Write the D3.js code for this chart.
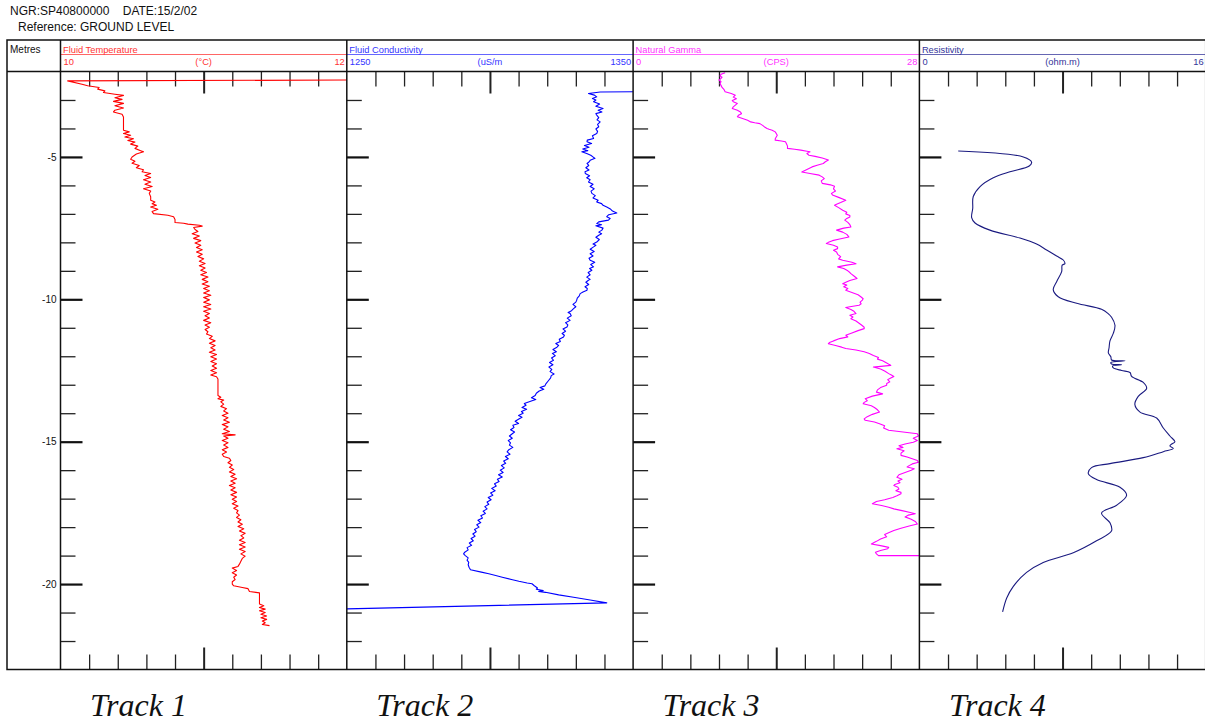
<!DOCTYPE html>
<html>
<head>
<meta charset="utf-8">
<script src="https://cdn.jsdelivr.net/npm/d3@7"></script>
<style>
  body { margin: 0; background: #fff; }
  svg { display: block; font-family: "Liberation Sans", Arial, sans-serif; }
</style>
</head>
<body>
<svg id="chart" width="1205" height="722"></svg>
<script>
// depth in metres below ground level, value in track units
var tempLog = [
  [2.30, 12.0], [2.33, 10.05], [2.45, 10.15], [2.50, 10.19], [2.56, 10.27], [2.62, 10.26], [2.68, 10.31], [2.74, 10.30],
  [2.80, 10.38], [2.84, 10.44], [2.92, 10.38], [2.98, 10.43], [3.05, 10.37], [3.12, 10.44], [3.20, 10.38], [3.28, 10.44],
  [3.36, 10.38], [3.42, 10.37], [3.50, 10.43], [3.60, 10.44], [3.80, 10.44], [4.00, 10.44], [4.06, 10.44], [4.12, 10.48],
  [4.18, 10.44], [4.24, 10.49], [4.30, 10.45], [4.36, 10.51], [4.42, 10.47], [4.48, 10.52], [4.55, 10.49], [4.62, 10.54],
  [4.70, 10.52], [4.78, 10.56], [4.82, 10.58], [4.90, 10.53], [5.00, 10.50], [5.08, 10.49], [5.15, 10.52], [5.22, 10.50],
  [5.30, 10.55], [5.38, 10.53], [5.45, 10.58], [5.52, 10.57], [5.58, 10.63], [5.65, 10.59], [5.72, 10.63], [5.80, 10.58],
  [5.88, 10.63], [5.96, 10.59], [6.04, 10.64], [6.12, 10.58], [6.20, 10.63], [6.28, 10.62], [6.40, 10.63], [6.52, 10.63],
  [6.58, 10.66], [6.64, 10.64], [6.70, 10.67], [6.76, 10.63], [6.84, 10.68], [6.92, 10.64], [6.99, 10.65], [7.05, 10.75],
  [7.10, 10.79], [7.20, 10.80], [7.30, 10.80], [7.33, 10.86], [7.36, 10.89], [7.40, 10.97], [7.43, 10.99], [7.48, 10.93],
  [7.55, 10.94], [7.62, 10.96], [7.70, 10.92], [7.78, 10.97], [7.86, 10.93], [7.94, 10.98], [8.02, 10.94], [8.10, 10.98],
  [8.18, 10.95], [8.26, 10.99], [8.34, 10.95], [8.42, 10.99], [8.50, 10.96], [8.58, 11.00], [8.66, 10.97], [8.74, 11.01],
  [8.82, 10.97], [8.90, 11.01], [8.98, 10.98], [9.06, 11.02], [9.14, 10.98], [9.22, 11.03], [9.30, 10.99], [9.38, 11.03],
  [9.46, 10.99], [9.54, 11.04], [9.62, 11.00], [9.70, 11.04], [9.78, 11.00], [9.86, 11.05], [9.94, 11.00], [10.02, 11.04],
  [10.10, 11.00], [10.18, 11.05], [10.26, 11.00], [10.34, 11.05], [10.42, 11.00], [10.50, 11.04], [10.58, 11.01], [10.66, 11.04],
  [10.74, 11.00], [10.82, 11.05], [10.90, 11.01], [10.98, 11.04], [11.06, 11.01], [11.14, 11.03], [11.22, 11.02], [11.30, 11.06],
  [11.38, 11.04], [11.46, 11.08], [11.54, 11.04], [11.62, 11.08], [11.70, 11.05], [11.78, 11.08], [11.86, 11.04], [11.94, 11.09],
  [12.02, 11.05], [12.10, 11.09], [12.18, 11.05], [12.26, 11.09], [12.34, 11.06], [12.42, 11.09], [12.50, 11.05], [12.58, 11.09],
  [12.66, 11.05], [12.72, 11.09], [12.80, 11.10], [13.00, 11.10], [13.20, 11.10], [13.38, 11.10], [13.44, 11.12], [13.49, 11.10],
  [13.54, 11.14], [13.60, 11.12], [13.68, 11.14], [13.76, 11.12], [13.84, 11.16], [13.92, 11.14], [14.00, 11.17], [14.08, 11.13],
  [14.16, 11.17], [14.24, 11.14], [14.32, 11.18], [14.40, 11.13], [14.48, 11.17], [14.56, 11.14], [14.64, 11.18], [14.72, 11.13],
  [14.76, 11.22], [14.80, 11.14], [14.88, 11.17], [14.96, 11.13], [15.04, 11.17], [15.12, 11.14], [15.20, 11.17], [15.28, 11.13],
  [15.36, 11.16], [15.44, 11.13], [15.52, 11.14], [15.58, 11.18], [15.66, 11.19], [15.74, 11.17], [15.82, 11.20], [15.90, 11.18],
  [15.98, 11.21], [16.06, 11.18], [16.14, 11.22], [16.22, 11.19], [16.30, 11.23], [16.38, 11.19], [16.46, 11.22], [16.54, 11.18],
  [16.62, 11.22], [16.70, 11.19], [16.78, 11.23], [16.86, 11.19], [16.94, 11.23], [17.02, 11.20], [17.10, 11.23], [17.18, 11.20],
  [17.26, 11.24], [17.34, 11.21], [17.42, 11.24], [17.50, 11.23], [17.58, 11.25], [17.66, 11.23], [17.74, 11.26], [17.82, 11.24],
  [17.90, 11.27], [17.98, 11.24], [18.06, 11.28], [18.14, 11.25], [18.22, 11.29], [18.30, 11.26], [18.38, 11.28], [18.46, 11.25],
  [18.54, 11.29], [18.62, 11.25], [18.70, 11.29], [18.78, 11.25], [18.86, 11.29], [18.94, 11.26], [19.02, 11.29], [19.10, 11.27],
  [19.20, 11.26], [19.30, 11.25], [19.38, 11.24], [19.44, 11.20], [19.52, 11.23], [19.60, 11.20], [19.68, 11.23], [19.76, 11.21],
  [19.84, 11.22], [19.92, 11.20], [20.00, 11.20], [20.06, 11.21], [20.12, 11.27], [20.16, 11.31], [20.26, 11.32], [20.31, 11.39],
  [20.50, 11.39], [20.70, 11.39], [20.76, 11.42], [20.82, 11.39], [20.88, 11.43], [20.94, 11.39], [21.00, 11.43], [21.06, 11.40],
  [21.12, 11.44], [21.18, 11.40], [21.24, 11.44], [21.30, 11.41], [21.36, 11.43], [21.42, 11.41], [21.46, 11.46]
]

var condLog = [
  [2.71, 1350], [2.72, 1338.5], [2.77, 1334.4], [2.83, 1336.5], [2.89, 1337.3], [2.95, 1335.8], [3.00, 1337.0], [3.06, 1336.2],
  [3.14, 1338.3], [3.22, 1337.0], [3.30, 1339.5], [3.36, 1337.8], [3.42, 1339.1], [3.48, 1337.0], [3.53, 1337.3], [3.62, 1338.0],
  [3.70, 1337.4], [3.77, 1338.5], [3.86, 1337.6], [3.94, 1338.0], [4.02, 1337.0], [4.10, 1337.6], [4.18, 1337.3], [4.26, 1335.8],
  [4.35, 1336.2], [4.41, 1334.0], [4.47, 1333.9], [4.53, 1335.5], [4.60, 1333.0], [4.66, 1334.6], [4.72, 1332.4], [4.78, 1334.2],
  [4.82, 1332.1], [4.88, 1333.8], [4.94, 1335.2], [5.00, 1336.0], [5.05, 1336.7], [5.12, 1335.0], [5.18, 1334.6], [5.23, 1333.9],
  [5.30, 1334.5], [5.38, 1333.5], [5.46, 1334.6], [5.52, 1333.2], [5.58, 1333.3], [5.66, 1334.8], [5.73, 1333.8], [5.80, 1335.0],
  [5.88, 1334.4], [5.96, 1336.0], [6.04, 1335.0], [6.12, 1336.4], [6.20, 1335.3], [6.28, 1335.6], [6.36, 1336.8], [6.44, 1336.0],
  [6.52, 1337.8], [6.58, 1337.3], [6.64, 1339.0], [6.70, 1339.5], [6.76, 1340.8], [6.84, 1342.2], [6.90, 1342.8], [6.97, 1344.3],
  [7.03, 1341.5], [7.10, 1340.8], [7.16, 1342.0], [7.22, 1341.4], [7.28, 1338.0], [7.34, 1337.3], [7.38, 1339.0], [7.42, 1337.0],
  [7.50, 1339.5], [7.57, 1339.1], [7.64, 1338.0], [7.70, 1339.0], [7.75, 1338.0], [7.82, 1337.0], [7.90, 1338.2], [7.99, 1337.3],
  [8.06, 1336.0], [8.10, 1337.0], [8.16, 1336.2], [8.24, 1335.0], [8.32, 1336.4], [8.40, 1335.0], [8.48, 1336.0], [8.56, 1334.6],
  [8.63, 1335.0], [8.70, 1336.6], [8.78, 1335.2], [8.86, 1336.2], [8.92, 1334.8], [8.98, 1335.6], [9.06, 1334.3], [9.14, 1335.0],
  [9.22, 1333.8], [9.30, 1335.0], [9.33, 1334.4], [9.40, 1333.5], [9.48, 1334.5], [9.56, 1333.2], [9.62, 1334.0], [9.68, 1333.9],
  [9.74, 1332.5], [9.80, 1331.5], [9.88, 1331.2], [9.96, 1330.5], [10.03, 1330.3], [10.10, 1330.0], [10.18, 1329.0], [10.26, 1330.0],
  [10.33, 1329.2], [10.40, 1328.5], [10.46, 1327.3], [10.50, 1328.0], [10.58, 1328.4], [10.66, 1327.0], [10.74, 1328.0], [10.82, 1326.4],
  [10.90, 1327.2], [10.97, 1326.9], [11.04, 1325.5], [11.12, 1326.4], [11.20, 1325.2], [11.26, 1326.0], [11.32, 1325.7], [11.40, 1324.2],
  [11.48, 1324.6], [11.55, 1323.0], [11.62, 1324.0], [11.68, 1323.4], [11.76, 1322.0], [11.84, 1323.2], [11.90, 1321.8], [11.98, 1322.8],
  [12.06, 1321.5], [12.14, 1322.2], [12.22, 1320.8], [12.30, 1322.0], [12.38, 1320.6], [12.46, 1321.6], [12.54, 1321.0], [12.62, 1322.4],
  [12.68, 1321.4], [12.76, 1321.2], [12.86, 1320.4], [12.96, 1319.6], [13.04, 1319.2], [13.10, 1317.5], [13.16, 1318.8], [13.22, 1317.2],
  [13.30, 1316.2], [13.38, 1315.8], [13.46, 1314.5], [13.52, 1316.0], [13.58, 1314.2], [13.66, 1312.0], [13.72, 1312.6], [13.80, 1311.2],
  [13.86, 1312.8], [13.94, 1311.0], [14.00, 1311.6], [14.08, 1310.0], [14.14, 1311.2], [14.20, 1310.1], [14.28, 1308.8], [14.36, 1310.0],
  [14.42, 1308.0], [14.50, 1308.4], [14.58, 1307.2], [14.66, 1308.6], [14.72, 1307.8], [14.80, 1306.8], [14.88, 1307.8], [14.96, 1306.4],
  [15.04, 1307.2], [15.12, 1306.8], [15.20, 1308.0], [15.28, 1306.6], [15.36, 1306.0], [15.44, 1307.0], [15.52, 1305.4], [15.60, 1306.4],
  [15.68, 1304.8], [15.76, 1305.5], [15.84, 1304.0], [15.92, 1305.0], [16.00, 1303.6], [16.08, 1304.6], [16.16, 1303.0], [16.24, 1304.3],
  [16.32, 1302.6], [16.40, 1303.2], [16.48, 1301.6], [16.56, 1302.2], [16.64, 1300.6], [16.72, 1301.8], [16.80, 1300.2], [16.88, 1301.0],
  [16.96, 1299.4], [17.04, 1300.4], [17.12, 1299.0], [17.20, 1299.6], [17.28, 1298.2], [17.36, 1299.0], [17.44, 1297.6], [17.52, 1298.4],
  [17.60, 1296.8], [17.68, 1297.4], [17.76, 1295.8], [17.84, 1296.8], [17.92, 1295.4], [18.00, 1296.2], [18.08, 1294.6], [18.16, 1295.2],
  [18.24, 1294.0], [18.32, 1294.8], [18.40, 1293.4], [18.48, 1294.2], [18.56, 1292.8], [18.64, 1293.6], [18.72, 1292.0], [18.80, 1292.4],
  [18.88, 1291.2], [18.94, 1290.8], [19.00, 1291.4], [19.08, 1292.4], [19.16, 1292.0], [19.24, 1292.6], [19.32, 1292.4], [19.41, 1292.7],
  [19.50, 1293.2], [19.58, 1297.0], [19.64, 1299.6], [19.70, 1302.0], [19.76, 1304.3], [19.84, 1307.5], [19.90, 1310.1], [19.96, 1313.0],
  [19.99, 1314.7], [20.06, 1315.5], [20.14, 1316.6], [20.18, 1316.2], [20.23, 1318.6], [20.26, 1317.0], [20.29, 1319.4], [20.38, 1324.0],
  [20.46, 1329.2], [20.56, 1335.0], [20.66, 1340.8], [20.87, 1250]
]

var gammaLog = [
  [2.04, 9.0], [2.10, 8.6], [2.16, 8.5], [2.20, 8.7], [2.24, 8.6], [2.30, 8.4], [2.36, 8.6], [2.42, 8.5], [2.48, 8.6], [2.56, 8.7],
  [2.64, 8.9], [2.71, 9.0], [2.77, 9.6], [2.83, 10.0], [2.90, 9.8], [2.96, 10.1], [3.02, 9.7], [3.06, 9.8], [3.12, 10.2], [3.18, 10.0],
  [3.24, 9.8], [3.30, 9.7], [3.36, 10.2], [3.42, 10.5], [3.48, 10.6], [3.54, 10.3], [3.59, 10.2], [3.65, 10.7], [3.71, 11.2], [3.77, 11.5],
  [3.80, 11.9], [3.83, 12.4], [3.90, 12.7], [3.96, 12.9], [4.00, 13.1], [4.03, 13.3], [4.06, 13.6], [4.12, 13.9], [4.18, 14.0], [4.24, 14.1],
  [4.30, 14.0], [4.36, 13.9], [4.41, 13.9], [4.44, 14.5], [4.47, 14.9], [4.54, 15.0], [4.62, 15.1], [4.70, 15.1], [4.73, 15.8], [4.76, 16.4],
  [4.80, 17.0], [4.82, 17.3], [4.88, 17.0], [4.94, 17.2], [4.98, 17.8], [5.04, 18.5], [5.11, 19.1], [5.17, 18.8], [5.23, 18.6], [5.29, 18.0],
  [5.35, 17.5], [5.44, 17.0], [5.53, 16.5], [5.58, 17.3], [5.64, 18.2], [5.70, 18.5], [5.76, 18.7], [5.84, 18.4], [5.93, 18.5], [5.98, 19.3],
  [6.03, 19.7], [6.12, 19.6], [6.20, 19.8], [6.28, 19.4], [6.34, 19.5], [6.42, 20.1], [6.52, 20.8], [6.60, 20.3], [6.66, 19.9], [6.70, 19.7],
  [6.78, 20.1], [6.87, 20.5], [6.94, 20.9], [7.00, 20.8], [7.06, 21.2], [7.11, 21.2], [7.16, 20.9], [7.22, 20.7], [7.30, 21.0], [7.38, 21.2],
  [7.46, 21.3], [7.50, 20.6], [7.57, 19.9], [7.64, 20.5], [7.72, 20.9], [7.81, 21.1], [7.88, 20.2], [7.94, 19.5], [8.00, 19.1], [8.04, 18.9],
  [8.10, 19.6], [8.16, 20.0], [8.22, 20.0], [8.28, 19.6], [8.34, 19.9], [8.42, 20.0], [8.50, 20.3], [8.58, 20.1], [8.63, 20.5], [8.70, 21.4],
  [8.75, 21.8], [8.80, 20.9], [8.86, 20.0], [8.92, 20.6], [9.00, 21.0], [9.06, 21.2], [9.10, 21.3], [9.18, 21.6], [9.27, 21.9], [9.34, 21.2],
  [9.40, 20.8], [9.45, 20.5], [9.50, 20.9], [9.56, 20.6], [9.62, 21.0], [9.68, 20.8], [9.76, 21.4], [9.84, 22.0], [9.92, 22.3], [9.98, 22.5],
  [10.04, 22.4], [10.10, 22.2], [10.16, 22.3], [10.21, 22.1], [10.26, 21.2], [10.29, 20.8], [10.36, 21.3], [10.42, 21.6], [10.50, 21.8], [10.56, 21.2],
  [10.62, 21.5], [10.68, 21.3], [10.76, 21.8], [10.84, 22.1], [10.92, 22.4], [10.98, 22.6], [11.03, 22.6], [11.10, 22.0], [11.18, 21.4], [11.26, 20.8],
  [11.32, 21.0], [11.38, 20.2], [11.46, 19.6], [11.52, 19.2], [11.56, 19.1], [11.62, 19.8], [11.68, 20.4], [11.73, 20.8], [11.78, 21.8], [11.84, 22.6],
  [11.90, 23.1], [11.97, 23.5], [12.04, 24.0], [12.10, 23.9], [12.16, 24.4], [12.24, 24.8], [12.32, 25.2], [12.38, 23.5], [12.45, 24.2], [12.52, 24.6],
  [12.61, 25.0], [12.67, 25.3], [12.71, 25.5], [12.76, 25.2], [12.82, 24.9], [12.90, 25.1], [12.96, 24.8], [13.02, 24.8], [13.10, 24.2], [13.18, 23.9],
  [13.26, 23.8], [13.32, 24.4], [13.40, 23.4], [13.49, 22.7], [13.56, 22.9], [13.62, 22.6], [13.67, 22.5], [13.74, 23.3], [13.80, 23.6], [13.88, 23.9],
  [13.96, 24.1], [14.04, 23.4], [14.12, 22.9], [14.20, 22.6], [14.25, 22.7], [14.31, 23.6], [14.37, 24.1], [14.44, 24.6], [14.52, 24.5], [14.60, 25.0],
  [14.66, 26.4], [14.72, 27.8], [14.80, 27.9], [14.88, 27.4], [14.96, 27.8], [15.02, 27.4], [15.08, 26.6], [15.14, 26.0], [15.20, 26.4], [15.25, 25.8],
  [15.32, 26.5], [15.40, 26.2], [15.48, 26.2], [15.54, 26.8], [15.60, 27.3], [15.66, 27.8], [15.72, 27.9], [15.78, 27.3], [15.84, 27.0], [15.89, 26.8],
  [15.95, 27.5], [16.00, 27.2], [16.08, 26.6], [16.16, 26.0], [16.25, 25.8], [16.32, 26.3], [16.38, 25.9], [16.44, 26.1], [16.50, 25.6], [16.54, 25.5],
  [16.60, 25.9], [16.66, 26.0], [16.72, 25.7], [16.78, 26.2], [16.83, 26.2], [16.90, 25.8], [16.96, 25.4], [17.04, 24.6], [17.10, 23.8], [17.18, 23.4],
  [17.24, 24.3], [17.30, 25.0], [17.36, 25.5], [17.42, 26.3], [17.48, 27.0], [17.53, 27.6], [17.58, 26.9], [17.64, 26.6], [17.72, 27.2], [17.80, 27.6],
  [17.89, 27.8], [17.96, 27.0], [18.04, 26.2], [18.12, 25.5], [18.18, 25.1], [18.26, 24.6], [18.34, 24.8], [18.42, 24.2], [18.50, 23.8], [18.59, 23.3],
  [18.65, 24.2], [18.71, 25.0], [18.76, 24.9], [18.82, 24.2], [18.88, 23.7], [18.94, 23.8], [19.00, 24.0], [19.00, 28.0]
]

var resLog = [
  [4.79, 2.17], [5.00, 5.81], [5.18, 6.27], [5.32, 6.14], [5.52, 5.06], [5.73, 4.13], [6.04, 3.39], [6.39, 3.01], [6.81, 2.98],
  [7.13, 2.92], [7.32, 3.11], [7.57, 3.94], [7.85, 5.62], [8.06, 6.55], [8.27, 7.11], [8.48, 7.67], [8.62, 8.04], [8.75, 8.13],
  [8.80, 7.98], [9.03, 7.95], [9.38, 7.67], [9.66, 7.48], [9.91, 7.76], [10.14, 8.79], [10.35, 10.18], [10.50, 10.55], [10.63, 10.74],
  [10.91, 10.93], [11.19, 10.84], [11.46, 10.65], [11.70, 10.60], [11.88, 10.56], [12.02, 10.70], [12.13, 10.74], [12.16, 11.49],
  [12.22, 10.70], [12.27, 10.74], [12.30, 11.30], [12.34, 10.80], [12.41, 10.84], [12.50, 11.30], [12.57, 11.77], [12.71, 11.86],
  [12.92, 12.51], [13.13, 12.70], [13.41, 12.23], [13.69, 12.04], [13.96, 12.33], [14.17, 13.26], [14.52, 13.63], [14.80, 14.00],
  [15.00, 14.28], [15.08, 14.10], [15.15, 14.00], [15.24, 14.19], [15.35, 13.63], [15.56, 12.51], [15.77, 10.65], [15.91, 9.62],
  [16.12, 9.44], [16.33, 9.90], [16.60, 11.21], [16.88, 11.58], [17.23, 11.02], [17.51, 10.18], [17.85, 10.65], [18.13, 10.74],
  [18.48, 9.90], [18.90, 8.60], [19.24, 6.92], [19.59, 5.99], [20.08, 5.25], [20.49, 4.88], [20.98, 4.65]
]

// track header texts and scale limits
var trackTitles = ["Fluid Temperature", "Fluid Conductivity", "Natural Gamma", "Resistivity"]
var trackUnits = ["(°C)", "(uS/m", "(CPS)", "(ohm.m)"]
var trackMin = [10, 1250, 0, 0]
var trackMax = [12, 1350, 28, 16]
var trackColors = ["#ff0000", "#0000ff", "#ff00ff", "#1a1a80"]
var headColors = ["#ff3333", "#3333ff", "#ff33ff", "#333399"]
var trackLabels = ["Track 1", "Track 2", "Track 3", "Track 4"]
var depthMajor = [5, 10, 15, 20]
var logs = [tempLog, condLog, gammaLog, resLog]

var svg = d3.select("#chart")

var frameLeft = 7, frameTop = 40, headBottom = 71.5, plotBottom = 669.5
var trackW = 286.3
var firstTrack = 60.5
var trackLeft = d3.range(4).map(function(i){ return firstTrack + i * trackW })

var y = d3.scaleLinear().domain([2, 23]).range([headBottom, plotBottom])

// heading lines
svg.append("text").attr("x", 10).attr("y", 15).attr("font-size", 12).attr("fill", "#111")
    .attr("xml:space", "preserve").text("NGR:SP40800000    DATE:15/2/02")
svg.append("text").attr("x", 18).attr("y", 31).attr("font-size", 12).attr("fill", "#111")
    .text("Reference: GROUND LEVEL")

svg.append("text").attr("x", 10).attr("y", 53).attr("font-size", 10).attr("fill", "#111").text("Metres")

// depth labels in the Metres column
var depthAxis = d3.axisLeft(y).tickValues(depthMajor).tickSize(0).tickPadding(4)
    .tickFormat(function(d){ return "-" + d })
var gDepth = svg.append("g").attr("transform", "translate(" + firstTrack + ",0)").call(depthAxis)
gDepth.select(".domain").remove()
gDepth.selectAll("text").attr("font-size", 10).attr("fill", "#111").attr("font-family", "Liberation Sans, Arial")

var defs = svg.append("defs")

trackLeft.forEach(function(left, i){
    var right = left + trackW
    var x = d3.scaleLinear().domain([trackMin[i], trackMax[i]]).range([left, right])

    // header
    svg.append("text").attr("x", left + 2.5).attr("y", 52.5).attr("font-size", 9.3)
        .attr("fill", headColors[i]).text(trackTitles[i])
    svg.append("line").attr("x1", left).attr("x2", right).attr("y1", 54.5).attr("y2", 54.5)
        .attr("stroke", headColors[i]).attr("stroke-opacity", 0.75).attr("stroke-width", 1.2)
    svg.append("text").attr("x", left + 3).attr("y", 65).attr("font-size", 9.3)
        .attr("fill", headColors[i]).text(trackMin[i])
    svg.append("text").attr("x", (left + right) / 2).attr("y", 65).attr("font-size", 9.3)
        .attr("text-anchor", "middle").attr("fill", headColors[i]).text(trackUnits[i])
    svg.append("text").attr("x", right - 2).attr("y", 65).attr("font-size", 9.3)
        .attr("text-anchor", "end").attr("fill", headColors[i]).text(trackMax[i])

    // value ticks top and bottom
    var xt = d3.range(1, 10).map(function(k){ return trackMin[i] + k * (trackMax[i] - trackMin[i]) / 10 })
    var mid = trackMin[i] + (trackMax[i] - trackMin[i]) / 2
    var topAxis = d3.axisBottom(x).tickValues(xt).tickFormat("").tickSizeOuter(0)
        .tickSizeInner(15)
    var gTop = svg.append("g").attr("transform", "translate(0," + headBottom + ")").call(topAxis)
    var botAxis = d3.axisTop(x).tickValues(xt).tickFormat("").tickSizeOuter(0).tickSizeInner(15)
    var gBot = svg.append("g").attr("transform", "translate(0," + plotBottom + ")").call(botAxis)
    ;[gTop, gBot].forEach(function(g, k){
        g.select(".domain").remove()
        g.selectAll(".tick line").attr("stroke", "#222").attr("stroke-width", 1.3)
            .filter(function(d){ return Math.abs(d - mid) < 1e-9 })
            .attr("y2", k === 0 ? 22 : -22).attr("stroke-width", 2)
    })

    // depth ticks on left edge of every track
    var minor = d3.range(3, 23).filter(function(d){ return depthMajor.indexOf(d) < 0 })
    var gMin = svg.append("g").attr("transform", "translate(" + left + ",0)")
        .call(d3.axisRight(y).tickValues(minor).tickSize(15).tickFormat(""))
    var gMaj = svg.append("g").attr("transform", "translate(" + left + ",0)")
        .call(d3.axisRight(y).tickValues(depthMajor).tickSize(22).tickFormat(""))
    gMin.select(".domain").remove()
    gMaj.select(".domain").remove()
    gMin.selectAll(".tick line").attr("stroke", "#222").attr("stroke-width", 1.3)
    gMaj.selectAll(".tick line").attr("stroke", "#111").attr("stroke-width", 2.2)

    // the log curve, clipped to the track
    defs.append("clipPath").attr("id", "clip" + i).append("rect")
        .attr("x", left).attr("y", headBottom).attr("width", trackW).attr("height", plotBottom - headBottom)
    var line = d3.line().x(function(d){ return x(d[1]) }).y(function(d){ return y(d[0]) })
    // resistivity is a smooth trace in the original
    if (i === 3) line.curve(d3.curveCatmullRom.alpha(0.5))
    svg.append("path").datum(logs[i]).attr("clip-path", "url(#clip" + i + ")")
        .attr("d", line).attr("fill", "none").attr("stroke", trackColors[i])
        .attr("stroke-width", 1.1).attr("stroke-linejoin", "round")

    // track label under the plot
    svg.append("text").attr("x", left + 29.5).attr("y", 716)
        .attr("font-family", "Liberation Serif, Times New Roman, serif").attr("font-style", "italic")
        .attr("font-size", 32).attr("fill", "#111").text(trackLabels[i])
})

// frame and grid borders
svg.append("rect").attr("x", frameLeft).attr("y", frameTop)
    .attr("width", firstTrack + 4 * trackW - frameLeft).attr("height", plotBottom - frameTop)
    .attr("fill", "none").attr("stroke", "#111").attr("stroke-width", 1.5)
svg.append("line").attr("x1", frameLeft).attr("x2", 1206).attr("y1", headBottom).attr("y2", headBottom)
    .attr("stroke", "#111").attr("stroke-width", 1.5)
trackLeft.forEach(function(left){
    svg.append("line").attr("x1", left).attr("x2", left).attr("y1", frameTop).attr("y2", plotBottom)
        .attr("stroke", "#111").attr("stroke-width", 1.5)
})
</script>
</body>
</html>
